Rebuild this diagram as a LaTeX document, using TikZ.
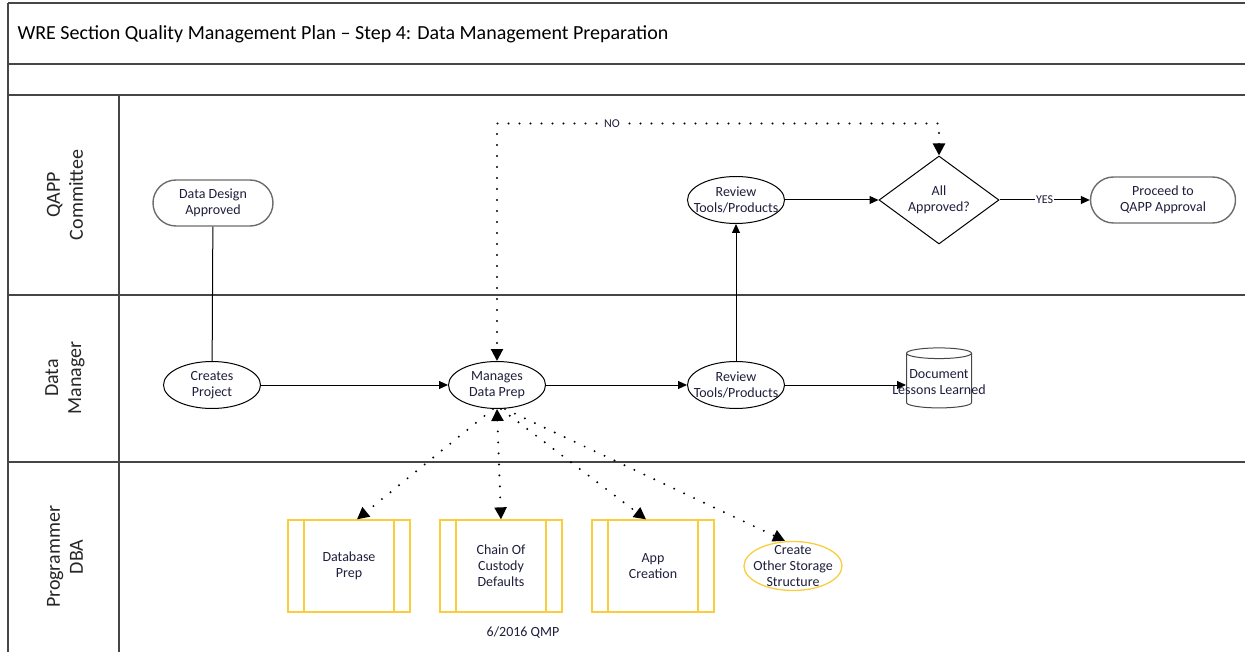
\documentclass[tikz,border=0pt]{standalone}
\usepackage{fontspec}
\setmainfont{Carlito}
\usetikzlibrary{arrows.meta,shapes.geometric,shapes.misc}
\definecolor{qyellow}{RGB}{250,205,60}
\definecolor{qgray}{RGB}{70,70,70}
\definecolor{qtext}{RGB}{30,30,60}

\begin{document}
\begin{tikzpicture}[x=1pt,y=-1pt,
  lane/.style={draw=qgray, line width=1.5pt},
  lanelabel/.style={rotate=90, align=center, font=\fontsize{20}{23}\selectfont, text=black!85},
  txt/.style={font=\fontsize{14}{16}\selectfont, text=qtext, align=center, inner sep=0pt},
  terminal/.style={txt, rounded rectangle, draw=gray!85!black, line width=1.4pt, minimum height=46pt},
  task/.style={ellipse, draw, line width=1pt, minimum width=97pt, minimum height=47pt},
  decision/.style={txt, diamond, aspect=1.4, draw, line width=1pt, minimum width=120pt, minimum height=88pt},
  procbox/.style={txt, rectangle, draw=qyellow, line width=1.3pt, minimum width=122pt, minimum height=92pt,
    path picture={\draw[qyellow, line width=1.3pt]
      ([xshift=16pt]path picture bounding box.north west) -- ([xshift=16pt]path picture bounding box.south west)
      ([xshift=-16pt]path picture bounding box.north east) -- ([xshift=-16pt]path picture bounding box.south east);}},
  flow/.style={-{Triangle[length=9pt,width=8pt]}, line width=1pt},
  dots/.style={line width=2.2pt, dash pattern=on 0pt off 11pt, line cap=round},
  dottip/.tip={Triangle[length=12pt,width=12pt]}
]
\useasboundingbox (0,0) rectangle (1245,652);

% frame and lanes
\draw[lane] (8,3) -- (1245,3);
\draw[lane] (8,64) -- (1245,64);
\draw[lane] (8,95) -- (1245,95);
\draw[lane] (8,295) -- (1245,295);
\draw[lane] (8,462) -- (1245,462);
\draw[lane] (8,3) -- (8,652);
\draw[lane] (119,95) -- (119,652);

\node[anchor=west, font=\fontsize{20}{22}\selectfont] (title) at (14,34) {WRE Section Quality Management Plan -- Step 4: Data Management Preparation};
\node[lanelabel] (qapp) at (65,195) {QAPP\\Committee};
\node[lanelabel] (dm) at (65,378) {Data\\Manager};
\node[lanelabel] (dba) at (65,557) {Programmer\\DBA};

% QAPP Committee
\node[terminal, minimum width=120pt] (dda) at (213,203) {Data Design\\Approved};
\node[task, label={[txt]center:{Review\\Tools/Products}}] (rtp2) at (736,200) {};
\node[decision] (aa) at (939,200) {All\\Approved?};
\node[terminal, minimum width=145pt] (qa) at (1163,200) {Proceed to\\QAPP Approval};

% Data Manager
\node[task, label={[txt]center:{Creates\\Project}}] (cp) at (212,385) {};
\node[task, label={[txt]center:{Manages\\Data Prep}}] (mdp) at (497,385) {};
\node[task, label={[txt]center:{Review\\Tools/Products}}] (rtp1) at (736,385) {};
\node[cylinder, shape border rotate=90, aspect=1.6, draw=qgray, line width=1pt, minimum width=65pt, minimum height=60pt,
  label={[txt]center:{Document\\Lessons Learned}}] (dll) at (939,382) {};

% Programmer DBA
\node[procbox] (db) at (349,566) {Database\\Prep};
\node[procbox] (coc) at (501,566) {Chain Of\\Custody\\Defaults};
\node[procbox] (app) at (653,566) {App\\Creation};
\node[ellipse, draw=qyellow, line width=1.3pt, minimum width=98pt, minimum height=49pt,
  label={[txt]center:{Create\\Other Storage\\Structure}}] (oss) at (793,566) {};
\node[txt] (qmp) at (523,633) {6/2016 QMP};

% connectors
\draw[line width=1pt] (dda) -- (cp);
\draw[flow] (cp) -- (mdp);
\draw[flow] (mdp) -- (rtp1);
\draw[flow] (rtp1.east) -- (dll.west |- rtp1.east);
\draw[flow] (rtp1) -- (rtp2);
\draw[flow] (rtp2) -- (aa);
\draw[flow] (aa) -- node[txt, fill=white, inner sep=1pt, font=\fontsize{12}{14}\selectfont] (yes) {YES} (qa);
\draw[dots, dottip-dottip] (aa.north) -- ++(0,-32) -| node[txt, fill=white, inner sep=1pt, pos=0.37, font=\fontsize{12}{14}\selectfont] (no) {NO} (mdp.north);
\draw[dots, -dottip] ([xshift=-4pt]mdp.south) -- ([xshift=8pt]db.north);
\draw[dots, dottip-dottip] (mdp.south) -- (coc.north);
\draw[dots, -dottip] ([xshift=4pt]mdp.south) -- ([xshift=-7pt]app.north);
\draw[dots, -dottip] ([xshift=8pt]mdp.south) -- ([xshift=-8pt]oss.north);
\end{tikzpicture}
\end{document}
